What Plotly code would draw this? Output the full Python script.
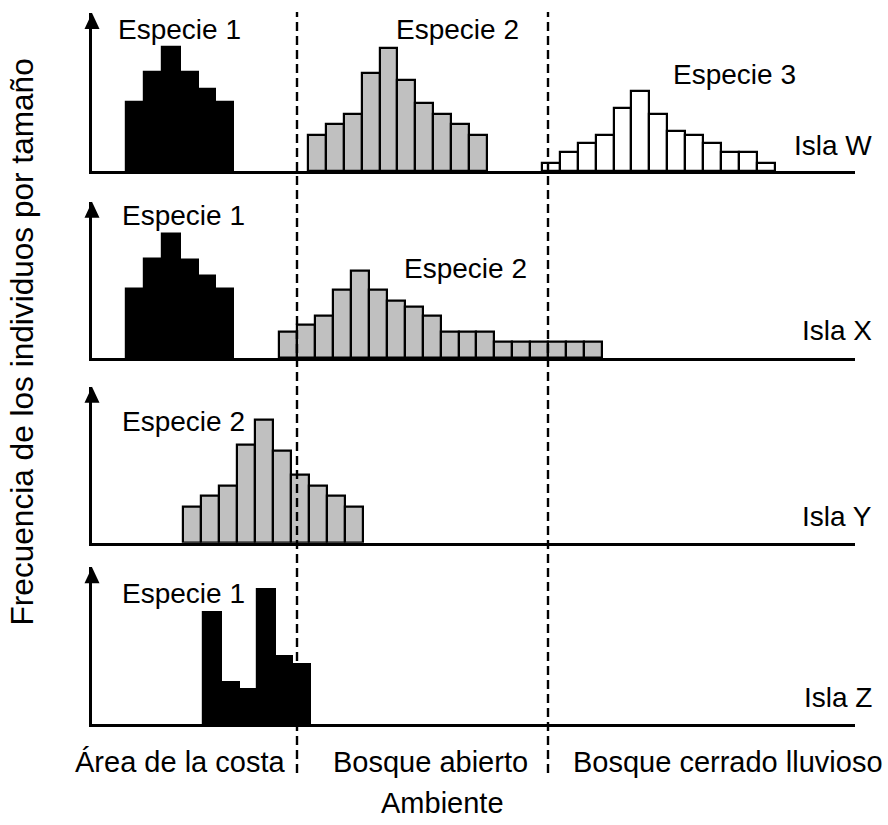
import plotly.graph_objects as go

# ---------------- data (frequency per size class, arbitrary units) ----------------
isla_w_sp1 = [69, 99, 124, 99, 82, 69]
isla_w_sp2 = [36, 47, 57, 98, 123, 91, 68, 57, 47, 36]
isla_w_sp3 = [8, 19, 28, 36, 63, 80, 57, 40, 36, 28, 19, 19, 8]
isla_x_sp1 = [69, 99, 124, 98, 82, 69]
isla_x_sp2 = [26, 33, 42, 68, 87, 68, 57, 51, 42, 26, 26, 26, 16, 16, 16, 16, 16, 16]
isla_y_sp2 = [36, 47, 57, 98, 123, 92, 68, 57, 47, 36]
isla_z_sp1 = [112, 42, 35, 135, 68, 60]

islas = ["Isla W", "Isla X", "Isla Y", "Isla Z"]
ambientes = ["Área de la costa", "Bosque abierto", "Bosque cerrado lluvioso"]
x_title = "Ambiente"
y_title = "Frecuencia de los individuos por tamaño"

# ---------------- layout geometry (pixels in the 888x825 page) ----------------
W, H = 888, 825
PX_PER_BIN = 17.95
BIN0_PX = 125.7
AX_L, AX_R = 92, 855
FONT = "Liberation Sans"


def px_to_bin(px):
    return (px - BIN0_PX) / PX_PER_BIN


def pxx(px):
    return px / W


def pxy(py):
    return 1 - py / H


GRAY = "#c0c0c0"
# panel: baseline px, top px, list of (values, start pixel, fill, label, label center x, label y)
panels = [
    dict(base=171, top=13, series=[
        (isla_w_sp1, 125.7, "black", "Especie 1", 179.7, 29),
        (isla_w_sp2, 307.7, GRAY, "Especie 2", 457, 29),
        (isla_w_sp3, 541.7, "white", "Especie 3", 734, 74),
    ], isla_y=145),
    dict(base=358, top=201.7, series=[
        (isla_x_sp1, 125.7, "black", "Especie 1", 183.7, 215),
        (isla_x_sp2, 279.0, GRAY, "Especie 2", 465, 268),
    ], isla_y=331),
    dict(base=542.7, top=386.7, series=[
        (isla_y_sp2, 183.3, GRAY, "Especie 2", 183.3, 422),
    ], isla_y=516),
    dict(base=724, top=567.3, series=[
        (isla_z_sp1, 202.7, "black", "Especie 1", 183.7, 593),
    ], isla_y=697),
]

fig = go.Figure()
layout = {}
shapes = []
annotations = []

for k, p in enumerate(panels, start=1):
    xa = "x" if k == 1 else f"x{k}"
    ya = "y" if k == 1 else f"y{k}"
    for vals, start_px, fill, label, lx, ly in p["series"]:
        start = px_to_bin(start_px)
        fig.add_trace(go.Bar(
            x=[start + i + 0.5 for i in range(len(vals))],
            y=vals,
            width=1,
            marker=dict(color=fill, line=dict(color="black", width=2.2)),
            xaxis=xa, yaxis=ya, showlegend=False, hoverinfo="skip",
        ))
        annotations.append(dict(
            text=label, x=pxx(lx), y=pxy(ly), xref="paper", yref="paper",
            xanchor="center", yanchor="middle", showarrow=False,
            font=dict(family=FONT, size=28, color="black"),
        ))
    annotations.append(dict(
        text=islas[k - 1], x=pxx(874), y=pxy(p["isla_y"]), xref="paper", yref="paper",
        xanchor="right", yanchor="middle", showarrow=False,
        font=dict(family=FONT, size=28, color="black"),
    ))
    axis_common = dict(showline=True, linecolor="black", linewidth=2.6,
                       showticklabels=False, ticks="", showgrid=False,
                       zeroline=False, fixedrange=True)
    layout["xaxis" if k == 1 else f"xaxis{k}"] = dict(
        domain=[pxx(AX_L), pxx(AX_R)],
        range=[px_to_bin(AX_L), px_to_bin(AX_R)],
        anchor=ya, **axis_common)
    layout["yaxis" if k == 1 else f"yaxis{k}"] = dict(
        domain=[pxy(p["base"]), pxy(p["top"])],
        range=[0, p["base"] - p["top"]],
        anchor=xa, **axis_common)
    # arrow head on the y axis
    shapes.append(dict(
        type="path", xref="paper", yref="paper",
        xsizemode="pixel", ysizemode="pixel",
        xanchor=pxx(AX_L), yanchor=pxy(p["top"]),
        path="M -7.5 -16 L 7.5 -16 L 0 0 Z",
        fillcolor="black", line=dict(width=0), layer="above",
    ))

# region boundaries (dashed)
for bx in [297, 548]:
    shapes.append(dict(
        type="line", xref="paper", yref="paper",
        x0=pxx(bx), x1=pxx(bx), y0=pxy(773), y1=pxy(12),
        line=dict(color="black", width=2.4, dash="9px,5px"), layer="above",
    ))

# environment labels
for text, cx in zip(ambientes, [180, 430, 727.5]):
    annotations.append(dict(
        text=text, x=pxx(cx), y=pxy(762), xref="paper", yref="paper",
        xanchor="center", yanchor="middle", showarrow=False,
        font=dict(family=FONT, size=29, color="black"),
    ))

annotations.append(dict(
    text=x_title, x=pxx(442), y=pxy(803), xref="paper", yref="paper",
    xanchor="center", yanchor="middle", showarrow=False,
    font=dict(family=FONT, size=29, color="black"),
))
annotations.append(dict(
    text=y_title, x=pxx(21), y=pxy(342.5), xref="paper", yref="paper",
    xanchor="center", yanchor="middle", showarrow=False, textangle=-90,
    font=dict(family=FONT, size=31.6, color="black"),
))

fig.update_layout(
    width=W, height=H,
    margin=dict(l=0, r=0, t=0, b=0),
    paper_bgcolor="white", plot_bgcolor="white",
    barmode="overlay", bargap=0,
    shapes=shapes, annotations=annotations,
    **layout,
)

fig.write_html(
    "out.html", include_plotlyjs=True, config={"displayModeBar": False},
    post_script="document.body.style.margin='0';document.body.style.padding='0';"
                "document.body.style.overflow='hidden';",
)
